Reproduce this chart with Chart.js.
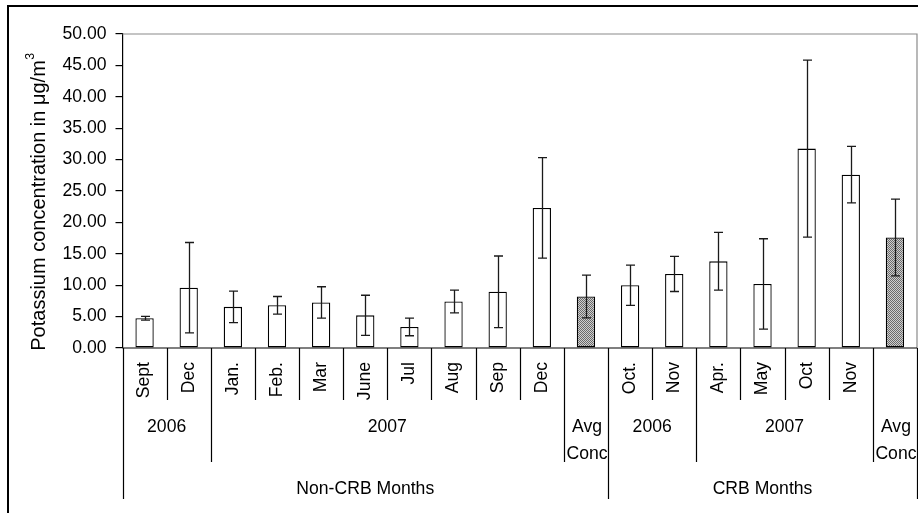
<!DOCTYPE html>
<html>
<head>
<meta charset="utf-8">
<title>Potassium concentration</title>
<script src="https://cdn.jsdelivr.net/npm/chart.js@4.4.1/dist/chart.umd.min.js"></script>
<style>
  html, body { margin: 0; padding: 0; background: #fff; }
  #wrap { width: 918px; height: 513px; }
</style>
</head>
<body>
<div id="wrap"><canvas id="chart" width="918" height="513"></canvas></div>
<script>
// Month labels (lowest axis row); empty entries are the average columns
const months = ['Sept', 'Dec', 'Jan.', 'Feb.', 'Mar', 'June', 'Jul', 'Aug', 'Sep', 'Dec', '',
                'Oct.', 'Nov', 'Apr.', 'May', 'Oct', 'Nov', ''];
// Middle axis row: year spans (number of columns each)
const yearLabels = ['2006', '2007', 'Avg\nConc', '2006', '2007', 'Avg\nConc'];
const yearSpans = [2, 8, 1, 2, 4, 1];
// Top axis row: season groups
const groupLabels = ['Non-CRB Months', 'CRB Months'];
const groupSpans = [11, 7];
// Mean potassium concentration (µg/m³) and its standard deviation
const concentration = [4.75, 9.6, 6.55, 6.8, 7.25, 5.2, 3.35, 7.4, 8.95, 22.3, 8.2,
                       10.0, 11.8, 13.8, 10.2, 31.75, 27.6, 17.6];
const stdDev = [0.3, 7.2, 2.5, 1.4, 2.5, 3.2, 1.4, 1.8, 5.7, 8.0, 3.4,
                3.2, 2.8, 4.6, 7.2, 14.1, 4.5, 6.1];
// Columns that hold an average
const isAverage = [false, false, false, false, false, false, false, false, false, false, true,
                   false, false, false, false, false, false, true];

const FONT = "'Liberation Sans', Arial, sans-serif";
const FS = 17.6;
const TITLE_FS = 20;

// Stippled grey fill for the average bars
function stipple() {
  const c = document.createElement('canvas');
  c.width = 2; c.height = 2;
  const g = c.getContext('2d');
  g.fillStyle = '#cfcfcf'; g.fillRect(0, 0, 2, 2);
  g.fillStyle = '#6a6a6a'; g.fillRect(0, 0, 1, 1); g.fillRect(1, 1, 1, 1);
  return g.createPattern(c, 'repeat');
}
const avgFill = stipple();

const frame = {
  id: 'frame',
  beforeDraw(chart) {
    const ctx = chart.ctx;
    ctx.save();
    ctx.fillStyle = '#fff';
    ctx.fillRect(0, 0, chart.width, chart.height);
    ctx.strokeStyle = '#000';
    ctx.lineWidth = 2;
    ctx.strokeRect(8, 6, 940, 540);
    ctx.restore();
  },
  afterDraw(chart) {
    const {ctx, chartArea: a} = chart;
    ctx.save();
    // plot area outline (top and right)
    ctx.strokeStyle = '#8a8a8a';
    ctx.lineWidth = 1.2;
    ctx.beginPath();
    ctx.moveTo(a.left, a.top);
    ctx.lineTo(a.right, a.top);
    ctx.lineTo(a.right, a.bottom);
    ctx.stroke();
    // axis title with superscript
    ctx.fillStyle = '#000';
    ctx.translate(39, 202);
    ctx.rotate(-Math.PI / 2);
    ctx.font = TITLE_FS + 'px ' + FONT;
    ctx.textBaseline = 'middle';
    const main = 'Potassium concentration in \u03bcg/m';
    const w = ctx.measureText(main).width;
    ctx.font = (TITLE_FS * 0.62) + 'px ' + FONT;
    const sw = ctx.measureText('3').width;
    const start = -(w + sw) / 2;
    ctx.font = TITLE_FS + 'px ' + FONT;
    ctx.textAlign = 'left';
    ctx.fillText(main, start, 0);
    ctx.font = (TITLE_FS * 0.62) + 'px ' + FONT;
    ctx.fillText('3', start + w + 0.5, -8);
    ctx.restore();
  }
};

const errorBars = {
  id: 'errorBars',
  afterDatasetsDraw(chart) {
    const {ctx, scales: {y}} = chart;
    const meta = chart.getDatasetMeta(0);
    ctx.save();
    ctx.strokeStyle = '#1a1a1a';
    ctx.lineWidth = 1.3;
    meta.data.forEach((bar, i) => {
      const yt = y.getPixelForValue(concentration[i] + stdDev[i]);
      const yb = y.getPixelForValue(concentration[i] - stdDev[i]);
      const cx = Math.round(bar.x) + 0.5;
      ctx.beginPath();
      ctx.moveTo(cx, yt); ctx.lineTo(cx, yb);
      ctx.moveTo(cx - 4.5, yt); ctx.lineTo(cx + 4.5, yt);
      ctx.moveTo(cx - 4.5, yb); ctx.lineTo(cx + 4.5, yb);
      ctx.stroke();
    });
    ctx.restore();
  }
};

// Three-row category axis: months, years, season groups
const nestedAxis = {
  id: 'nestedAxis',
  afterDraw(chart) {
    const {ctx, scales: {x}, chartArea: a} = chart;
    const n = months.length;
    const edge = b => x.getPixelForValue(b - 0.5);
    const rowMonth = 400, rowYear = 462, rowGroup = 499;
    const yearEdges = [0], groupEdges = [0];
    yearSpans.reduce((s, v) => { yearEdges.push(s + v); return s + v; }, 0);
    groupSpans.reduce((s, v) => { groupEdges.push(s + v); return s + v; }, 0);

    ctx.save();
    ctx.strokeStyle = '#000';
    ctx.lineWidth = 1.2;
    ctx.beginPath();
    ctx.moveTo(a.left, a.bottom);
    ctx.lineTo(a.right, a.bottom);
    for (let b = 0; b <= n; b++) {
      const px = Math.round(edge(b)) + 0.5;
      let bottom = rowMonth;
      if (groupEdges.includes(b)) bottom = rowGroup;
      else if (yearEdges.includes(b)) bottom = rowYear;
      ctx.moveTo(px, a.bottom);
      ctx.lineTo(px, bottom);
    }
    ctx.stroke();

    ctx.fillStyle = '#000';
    ctx.font = FS + 'px ' + FONT;
    // month labels, rotated, aligned to the axis side
    months.forEach((m, i) => {
      if (!m) return;
      ctx.save();
      ctx.translate(x.getPixelForValue(i), a.bottom + 14);
      ctx.rotate(-Math.PI / 2);
      ctx.textAlign = 'right';
      ctx.textBaseline = 'middle';
      ctx.fillText(m, 0, 0);
      ctx.restore();
    });
    // year labels
    ctx.textAlign = 'center';
    ctx.textBaseline = 'middle';
    yearLabels.forEach((lab, k) => {
      const cx = (edge(yearEdges[k]) + edge(yearEdges[k + 1])) / 2;
      const lines = lab.split('\n');
      lines.forEach((ln, j) => ctx.fillText(ln, cx + (lines.length > 1 ? 1 : 0), 427 + j * 27));
    });
    // group labels
    groupLabels.forEach((lab, k) => {
      const cx = (edge(groupEdges[k]) + edge(groupEdges[k + 1])) / 2;
      ctx.fillText(lab, cx, 489);
    });
    ctx.restore();
  }
};

new Chart(document.getElementById('chart'), {
  type: 'bar',
  data: {
    labels: months.map((m, i) => m || 'Avg Conc ' + i),
    datasets: [{
      data: concentration,
      backgroundColor: isAverage.map(a => a ? avgFill : '#ffffff'),
      borderColor: '#000',
      borderWidth: 1.3,
      borderSkipped: false,
      categoryPercentage: 1,
      barPercentage: 0.415
    }]
  },
  options: {
    responsive: false,
    devicePixelRatio: 1,
    animation: false,
    layout: { padding: { left: 0, right: 1, top: 34, bottom: 165 } },
    plugins: { legend: { display: false }, tooltip: { enabled: false } },
    scales: {
      x: {
        offset: true,
        grid: { display: false },
        border: { display: false },
        ticks: { display: false },
        afterFit(s) { s.height = 0; }
      },
      y: {
        min: 0, max: 50,
        ticks: {
          stepSize: 5,
          color: '#000',
          padding: 9,
          font: { family: FONT, size: FS },
          callback: v => v.toFixed(2)
        },
        grid: { drawOnChartArea: false, drawTicks: true, tickLength: 7, color: '#000', lineWidth: 1.2 },
        border: { display: true, color: '#000', width: 1.2 },
        afterFit(s) { s.width = 122.5; }
      }
    }
  },
  plugins: [frame, errorBars, nestedAxis]
});
</script>
</body>
</html>
